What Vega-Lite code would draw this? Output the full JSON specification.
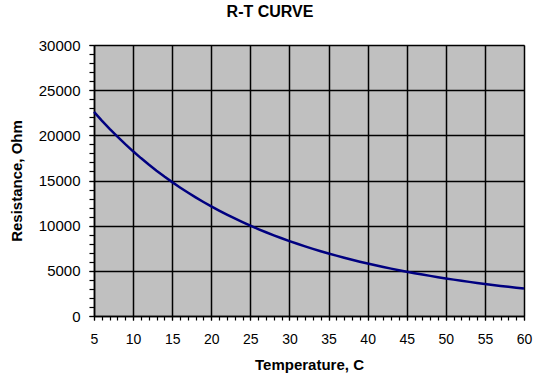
{
  "$schema": "https://vega.github.io/schema/vega-lite/v6.json",
  "autosize": "none",
  "width": 430,
  "height": 271,
  "padding": {"left": 94, "top": 45, "right": 12, "bottom": 66},
  "background": "white",
  "title": {"text": "R-T CURVE", "font": "Liberation Sans", "fontSize": 16, "fontWeight": "bold", "color": "black", "anchor": "middle", "dx": -39, "offset": 18},
  "config": {
    "view": {"fill": "#c0c0c0", "stroke": "#808080", "strokeWidth": 1},
    "axis": {"labelFont": "Liberation Sans", "titleFont": "Liberation Sans", "labelColor": "black", "titleColor": "black", "domainColor": "black", "tickColor": "black", "gridColor": "black", "gridOpacity": 1, "labelFlush": false, "labelOverlap": false}
  },
  "data": {"values": [
    {"t": 5, "r": 22594}, {"t": 6, "r": 21632}, {"t": 7, "r": 20718}, {"t": 8, "r": 19847}, {"t": 9, "r": 19019},
    {"t": 10, "r": 18231}, {"t": 11, "r": 17481}, {"t": 12, "r": 16767}, {"t": 13, "r": 16086}, {"t": 14, "r": 15438},
    {"t": 15, "r": 14820}, {"t": 16, "r": 14231}, {"t": 17, "r": 13669}, {"t": 18, "r": 13133}, {"t": 19, "r": 12621},
    {"t": 20, "r": 12133}, {"t": 21, "r": 11667}, {"t": 22, "r": 11221}, {"t": 23, "r": 10796}, {"t": 24, "r": 10389},
    {"t": 25, "r": 10000}, {"t": 26, "r": 9628}, {"t": 27, "r": 9272}, {"t": 28, "r": 8932}, {"t": 29, "r": 8606},
    {"t": 30, "r": 8295}, {"t": 31, "r": 7996}, {"t": 32, "r": 7710}, {"t": 33, "r": 7436}, {"t": 34, "r": 7173},
    {"t": 35, "r": 6922}, {"t": 36, "r": 6681}, {"t": 37, "r": 6449}, {"t": 38, "r": 6227}, {"t": 39, "r": 6014},
    {"t": 40, "r": 5810}, {"t": 41, "r": 5614}, {"t": 42, "r": 5425}, {"t": 43, "r": 5244}, {"t": 44, "r": 5070},
    {"t": 45, "r": 4903}, {"t": 46, "r": 4743}, {"t": 47, "r": 4589}, {"t": 48, "r": 4440}, {"t": 49, "r": 4298},
    {"t": 50, "r": 4160}, {"t": 51, "r": 4028}, {"t": 52, "r": 3901}, {"t": 53, "r": 3779}, {"t": 54, "r": 3661},
    {"t": 55, "r": 3547}, {"t": 56, "r": 3438}, {"t": 57, "r": 3333}, {"t": 58, "r": 3231}, {"t": 59, "r": 3134},
    {"t": 60, "r": 3040}
  ]},
  "layer": [
    {
      "mark": {"type": "line", "opacity": 0},
      "encoding": {
        "x": {"field": "t", "type": "quantitative", "scale": {"domain": [5, 60], "nice": false, "zero": false},
          "axis": {"orient": "bottom", "values": [5,6,7,8,9,10,11,12,13,14,15,16,17,18,19,20,21,22,23,24,25,26,27,28,29,30,31,32,33,34,35,36,37,38,39,40,41,42,43,44,45,46,47,48,49,50,51,52,53,54,55,56,57,58,59,60], "labels": false, "grid": false, "domain": false, "ticks": true, "tickSize": 4, "tickWidth": 1.2, "title": null}},
        "y": {"field": "r", "type": "quantitative", "scale": {"domain": [0, 30000], "nice": false},
          "axis": {"orient": "left", "values": [0,1000,2000,3000,4000,5000,6000,7000,8000,9000,10000,11000,12000,13000,14000,15000,16000,17000,18000,19000,20000,21000,22000,23000,24000,25000,26000,27000,28000,29000,30000], "labels": false, "grid": false, "domain": false, "ticks": true, "tickSize": 5, "tickWidth": 1.2, "title": null}}
      }
    },
    {
      "mark": {"type": "line", "color": "#000080", "strokeWidth": 2.5},
      "encoding": {
        "x": {"field": "t", "type": "quantitative",
          "axis": {"orient": "bottom", "values": [5,10,15,20,25,30,35,40,45,50,55,60], "format": "d", "grid": true, "gridWidth": 1.5, "tickSize": 4, "tickWidth": 1.2, "domainWidth": 1.5, "labelFontSize": 14, "labelPadding": 12, "title": "Temperature, C", "titleFontSize": 15, "titleFontWeight": "bold", "titlePadding": 11}},
        "y": {"field": "r", "type": "quantitative",
          "axis": {"orient": "left", "values": [0,5000,10000,15000,20000,25000,30000], "format": "d", "grid": true, "gridWidth": 1.5, "tickSize": 5, "tickWidth": 1.2, "domainWidth": 1.5, "labelFontSize": 15, "labelPadding": 9, "title": "Resistance, Ohm", "titleFontSize": 15, "titleFontWeight": "bold", "titlePadding": 14}}
      }
    }
  ],
  "resolve": {"axis": {"x": "independent", "y": "independent"}}
}
